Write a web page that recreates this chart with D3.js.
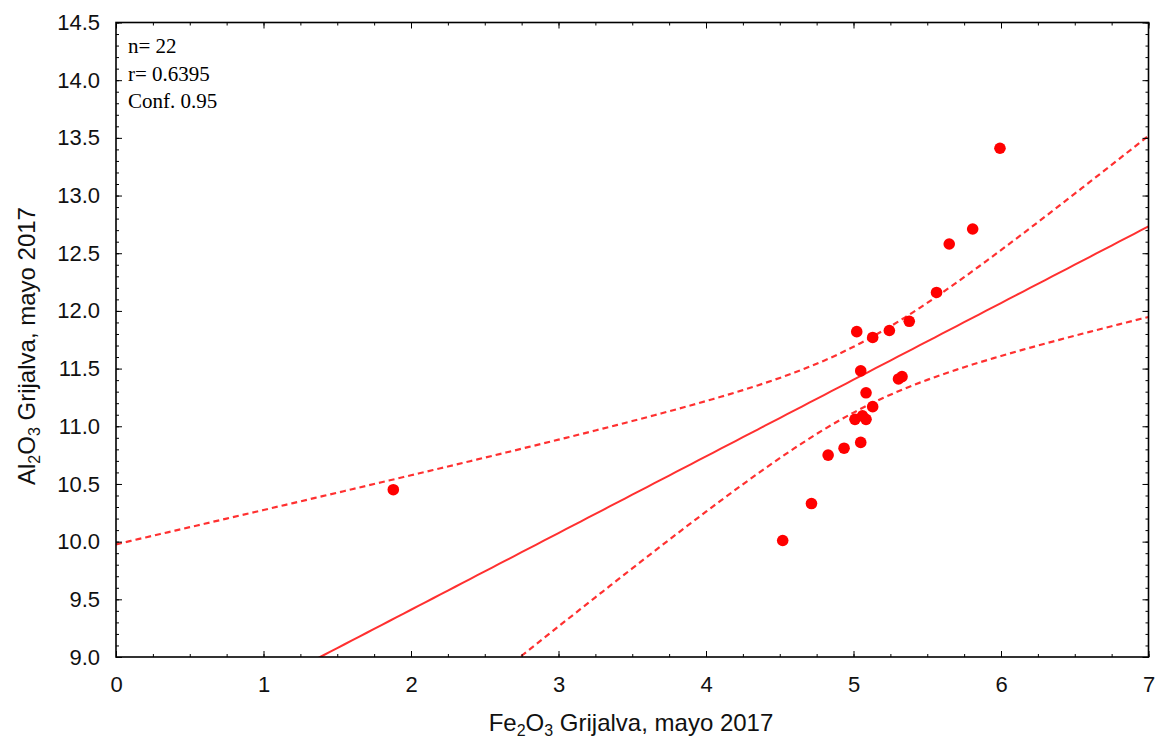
<!DOCTYPE html>
<html>
<head>
<meta charset="utf-8">
<script src="https://cdn.jsdelivr.net/npm/d3@7"></script>
<style>
  body { margin: 0; background: #fff; }
  svg { display: block; }
  .tick text { font-family: "Liberation Sans", Arial, sans-serif; font-size: 22px; fill: #111; }
  .domain { display: none; }
</style>
</head>
<body>
<div id="graph"></div>
<script>
// Fe2O3 vs Al2O3, Grijalva mayo 2017
var fe2o3 = [1.88, 4.52, 4.715, 4.828, 4.936, 5.01, 5.049, 5.061, 5.085, 5.085, 5.13,
             5.049, 5.022, 5.13, 5.243, 5.378, 5.305, 5.329, 5.563, 5.649, 5.808, 5.993];
var al2o3 = [10.45, 10.01, 10.33, 10.75, 10.81, 11.06, 10.86, 11.09, 11.06, 11.29, 11.17,
             11.48, 11.82, 11.77, 11.83, 11.91, 11.41, 11.43, 12.16, 12.58, 12.71, 13.41];
var xTicks = [0, 1, 2, 3, 4, 5, 6, 7];
var yTicks = [9.0, 9.5, 10.0, 10.5, 11.0, 11.5, 12.0, 12.5, 13.0, 13.5, 14.0, 14.5];
var notes = ["n= 22", "r= 0.6395", "Conf. 0.95"];
var tCrit = 2.086; // t(0.975, df=20)

var width = 1157,
    height = 740,
    plot = {left: 116, right: 1148.5, top: 22.5, bottom: 657};

var x = d3.scaleLinear().domain([0, 7]).range([plot.left, plot.right]);
var y = d3.scaleLinear().domain([9, 14.5]).range([plot.bottom, plot.top]);

var svg = d3.select("#graph").append("svg")
    .attr("width", width)
    .attr("height", height);

svg.append("clipPath").attr("id", "clip")
  .append("rect")
    .attr("x", plot.left).attr("y", plot.top)
    .attr("width", plot.right - plot.left).attr("height", plot.bottom - plot.top);

// least squares fit + 95% band for the mean
var pts = fe2o3.map(function(v, i) { return {x: v, y: al2o3[i]}; });
var n = pts.length,
    mx = d3.mean(fe2o3),
    my = d3.mean(al2o3),
    sxx = d3.sum(pts, function(d) { return (d.x - mx) * (d.x - mx); }),
    sxy = d3.sum(pts, function(d) { return (d.x - mx) * (d.y - my); }),
    slope = sxy / sxx,
    icpt = my - slope * mx,
    sse = d3.sum(pts, function(d) { var e = d.y - (icpt + slope * d.x); return e * e; }),
    s = Math.sqrt(sse / (n - 2));

function fit(v) { return icpt + slope * v; }
function half(v) { return tCrit * s * Math.sqrt(1 / n + (v - mx) * (v - mx) / sxx); }

var xs = d3.range(0, 7.001, 0.05);
var line = d3.line().x(function(d) { return x(d[0]); }).y(function(d) { return y(d[1]); });

var g = svg.append("g").attr("clip-path", "url(#clip)");

g.append("path")
    .attr("d", line(xs.map(function(v) { return [v, fit(v)]; })))
    .attr("fill", "none").attr("stroke", "#ff3030").attr("stroke-width", 2);

[1, -1].forEach(function(sign) {
  g.append("path")
      .attr("d", line(xs.map(function(v) { return [v, fit(v) + sign * half(v)]; })))
      .attr("fill", "none").attr("stroke", "#ff3030").attr("stroke-width", 2.2)
      .attr("stroke-dasharray", "6,4");
});

g.selectAll("circle.pt")
    .data(pts)
  .enter().append("circle")
    .attr("class", "pt")
    .attr("cx", function(d) { return x(d.x); })
    .attr("cy", function(d) { return y(d.y); })
    .attr("r", 5.8)
    .attr("fill", "#ff0000");

// axes: minor + major ticks pointing inward on all four sides
function noLabel() { return ""; }
var minX = d3.range(0, 7.001, 0.25), minY = d3.range(9, 14.501, 0.1);

svg.append("g").attr("transform", "translate(0," + plot.bottom + ")")
    .call(d3.axisBottom(x).tickValues(minX).tickSize(-3).tickFormat(noLabel));
svg.append("g").attr("transform", "translate(0," + plot.bottom + ")")
    .call(d3.axisBottom(x).tickValues(xTicks).tickSize(-6).tickPadding(19).tickFormat(d3.format("d")));
svg.append("g").attr("transform", "translate(0," + plot.top + ")")
    .call(d3.axisTop(x).tickValues(minX).tickSize(-3).tickFormat(noLabel));
svg.append("g").attr("transform", "translate(0," + plot.top + ")")
    .call(d3.axisTop(x).tickValues(xTicks).tickSize(-6).tickFormat(noLabel));

svg.append("g").attr("transform", "translate(" + plot.left + ",0)")
    .call(d3.axisLeft(y).tickValues(minY).tickSize(-3).tickFormat(noLabel));
svg.append("g").attr("transform", "translate(" + plot.left + ",0)")
    .call(d3.axisLeft(y).tickValues(yTicks).tickSize(-6).tickPadding(16).tickFormat(d3.format(".1f")));
svg.append("g").attr("transform", "translate(" + plot.right + ",0)")
    .call(d3.axisRight(y).tickValues(minY).tickSize(-3).tickFormat(noLabel));
svg.append("g").attr("transform", "translate(" + plot.right + ",0)")
    .call(d3.axisRight(y).tickValues(yTicks).tickSize(-6).tickFormat(noLabel));

svg.selectAll(".tick line").attr("stroke", "#000").attr("stroke-width", 1);

svg.append("rect")
    .attr("x", plot.left).attr("y", plot.top)
    .attr("width", plot.right - plot.left).attr("height", plot.bottom - plot.top)
    .attr("fill", "none").attr("stroke", "#000").attr("stroke-width", 1.6);

// stats box
svg.selectAll("text.note")
    .data(notes)
  .enter().append("text")
    .attr("class", "note")
    .attr("x", 128)
    .attr("y", function(d, i) { return 53 + i * 27.5; })
    .attr("font-family", "'Liberation Serif', 'Times New Roman', serif")
    .attr("font-size", 21)
    .attr("fill", "#000")
    .text(function(d) { return d; });

// axis titles with subscripts
function title(sel, parts) {
  parts.forEach(function(p) {
    var t = sel.append("tspan").text(p[0]);
    if (p[1] === "sub") t.attr("font-size", 16).attr("dy", 5);
    if (p[1] === "up") t.attr("dy", -5);
  });
}

var xt = svg.append("text")
    .attr("x", 631)
    .attr("y", 731)
    .attr("text-anchor", "middle")
    .attr("font-family", "'Liberation Sans', Arial, sans-serif")
    .attr("font-size", 24)
    .attr("fill", "#111");
title(xt, [["Fe"], ["2", "sub"], ["O", "up"], ["3", "sub"], [" Grijalva, mayo 2017", "up"]]);

var yt = svg.append("text")
    .attr("transform", "translate(35,346) rotate(-90)")
    .attr("text-anchor", "middle")
    .attr("font-family", "'Liberation Sans', Arial, sans-serif")
    .attr("font-size", 24)
    .attr("fill", "#111");
title(yt, [["Al"], ["2", "sub"], ["O", "up"], ["3", "sub"], [" Grijalva, mayo 2017", "up"]]);
</script>
</body>
</html>
